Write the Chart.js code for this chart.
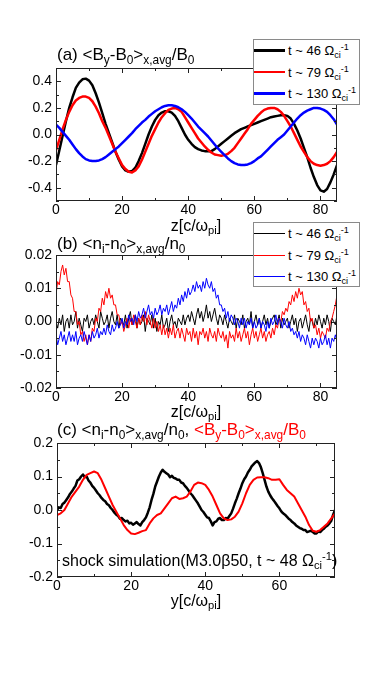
<!DOCTYPE html>
<html><head><meta charset="utf-8">
<script src="https://cdn.jsdelivr.net/npm/chart.js@4.4.0/dist/chart.umd.min.js"></script>
<style>
html,body{margin:0;padding:0;background:#fff;}
body{width:374px;height:680px;position:relative;overflow:hidden;font-family:"Liberation Sans",Arial,Helvetica,sans-serif;color:#000;}
canvas{position:absolute;left:0;top:0;}
.t{position:absolute;white-space:nowrap;line-height:1;z-index:4;}
.sb{font-size:0.7em;vertical-align:-0.3em;line-height:0;}
.sp{font-size:0.7em;vertical-align:0.5em;line-height:0;}
.xl{position:absolute;width:200px;text-align:center;font-size:16px;line-height:1;white-space:nowrap;z-index:4;}
.leg{position:absolute;left:253px;width:105px;border:1px solid #8a8a8a;background:#fff;z-index:5;}
.row{height:21.4px;display:flex;align-items:center;font-size:13px;line-height:1;white-space:nowrap;}
.sw{width:31px;margin-right:3px;flex:none;}
</style></head>
<body>
<canvas id="ca" width="374" height="680"></canvas>
<canvas id="cb" width="374" height="680"></canvas>
<canvas id="cc" width="374" height="680"></canvas>

<div class="t" style="left:57px;top:46px;font-size:17px;">(a) &lt;B<span class="sb">y</span>-B<span class="sb">0</span>&gt;<span class="sb">x,avg</span>/B<span class="sb">0</span></div>
<div class="xl" style="left:96px;top:218px;">z[c/ω<span class="sb">pi</span>]</div>
<div class="leg" style="top:39px;height:64px;">
  <div class="row"><div class="sw" style="height:2.5px;background:#000"></div><span>t ~ 46 Ω<span class="sb">ci</span><span class="sp">-1</span></span></div>
  <div class="row"><div class="sw" style="height:2.5px;background:#f00"></div><span>t ~ 79 Ω<span class="sb">ci</span><span class="sp">-1</span></span></div>
  <div class="row"><div class="sw" style="height:2.5px;background:#00f"></div><span>t ~ 130 Ω<span class="sb">ci</span><span class="sp">-1</span></span></div>
</div>

<div class="t" style="left:57px;top:235px;font-size:17px;">(b) &lt;n<span class="sb">i</span>-n<span class="sb">0</span>&gt;<span class="sb">x,avg</span>/n<span class="sb">0</span></div>
<div class="xl" style="left:96px;top:404px;">z[c/ω<span class="sb">pi</span>]</div>
<div class="leg" style="top:222px;height:63px;">
  <div class="row"><div class="sw" style="height:1px;background:#000"></div><span>t ~ 46 Ω<span class="sb">ci</span><span class="sp">-1</span></span></div>
  <div class="row"><div class="sw" style="height:1px;background:#f00"></div><span>t ~ 79 Ω<span class="sb">ci</span><span class="sp">-1</span></span></div>
  <div class="row"><div class="sw" style="height:1px;background:#00f"></div><span>t ~ 130 Ω<span class="sb">ci</span><span class="sp">-1</span></span></div>
</div>

<div class="t" style="left:57px;top:421px;font-size:17px;">(c) &lt;n<span class="sb">i</span>-n<span class="sb">0</span>&gt;<span class="sb">x,avg</span>/n<span class="sb">0</span>, <span style="color:#f00">&lt;B<span class="sb">y</span>-B<span class="sb">0</span>&gt;<span class="sb">x,avg</span>/B<span class="sb">0</span></span></div>
<div class="t" style="left:62px;top:553px;font-size:16px;">shock simulation(M3.0β50, t ~ 48 Ω<span class="sb">ci</span><span class="sp">-1</span>)</div>
<div class="xl" style="left:96px;top:593px;">y[c/ω<span class="sb">pi</span>]</div>

<script>
// ---------- tick labels ----------
const xTicksAB = [0, 20, 40, 60, 80];
const xTicksC = [0, 20, 40, 60];
const yTicksA = [-0.4, -0.2, 0, 0.2, 0.4];
const yTicksB = [-0.02, -0.01, 0, 0.01, 0.02];
const yTicksC = [-0.2, -0.1, 0, 0.1, 0.2];

// ---------- Panel (a): <By-B0>x,avg/B0, z = 0..85 step 1 ----------
const zA = Array.from({length: 86}, (_, i) => i);
const blackA = [
-0.23,-0.12,-0.01,0.10,0.20,0.28,0.35,0.39,0.415,0.42,
0.405,0.37,0.31,0.24,0.16,0.08,0.01,-0.06,-0.13,-0.19,
-0.24,-0.27,-0.28,-0.275,-0.25,-0.20,-0.14,-0.07,0.00,0.06,
0.11,0.145,0.165,0.175,0.175,0.165,0.14,0.10,0.05,0.00,
-0.04,-0.07,-0.095,-0.11,-0.12,-0.125,-0.125,-0.125,-0.11,-0.09,
-0.07,-0.05,-0.03,-0.01,0.01,0.025,0.04,0.05,0.06,0.07,
0.08,0.09,0.10,0.11,0.12,0.13,0.135,0.14,0.145,0.145,
0.14,0.12,0.08,0.03,-0.03,-0.10,-0.17,-0.25,-0.32,-0.38,
-0.42,-0.43,-0.41,-0.36,-0.30,-0.23];
const redA = [
-0.12,-0.04,0.04,0.11,0.17,0.22,0.255,0.275,0.285,0.285,
0.275,0.25,0.21,0.16,0.10,0.05,-0.01,-0.07,-0.13,-0.18,
-0.23,-0.26,-0.28,-0.285,-0.27,-0.24,-0.19,-0.13,-0.07,-0.01,
0.04,0.09,0.13,0.16,0.185,0.195,0.2,0.19,0.17,0.13,
0.09,0.05,0.01,-0.03,-0.06,-0.09,-0.115,-0.135,-0.15,-0.155,
-0.16,-0.155,-0.145,-0.125,-0.10,-0.065,-0.03,0.005,0.04,0.08,
0.11,0.14,0.165,0.185,0.195,0.2,0.2,0.19,0.17,0.14,
0.10,0.06,0.01,-0.04,-0.09,-0.13,-0.17,-0.20,-0.22,-0.23,
-0.235,-0.23,-0.22,-0.20,-0.17,-0.13];
const blueA = [
0.075,0.05,0.02,-0.01,-0.04,-0.075,-0.11,-0.14,-0.165,-0.185,
-0.195,-0.2,-0.2,-0.195,-0.185,-0.17,-0.15,-0.13,-0.11,-0.09,
-0.065,-0.04,-0.015,0.01,0.04,0.065,0.09,0.11,0.135,0.155,
0.175,0.19,0.205,0.215,0.22,0.22,0.215,0.205,0.19,0.17,
0.145,0.12,0.09,0.06,0.035,0.01,-0.015,-0.045,-0.075,-0.105,
-0.13,-0.155,-0.18,-0.2,-0.215,-0.225,-0.23,-0.23,-0.225,-0.215,
-0.2,-0.18,-0.165,-0.14,-0.115,-0.09,-0.065,-0.04,-0.02,0.0,
0.03,0.06,0.09,0.12,0.145,0.165,0.18,0.19,0.2,0.2,
0.195,0.185,0.17,0.145,0.115,0.075];

// ---------- Panel (b): <ni-n0>x,avg/n0, z = 0..85 step 0.5 ----------
const zB = Array.from({length: 171}, (_, i) => i * 0.5);
const blackB = [
0.000,-0.002,0.001,-0.001,0.002,-0.003,0.000,0.001,-0.002,0.002,
-0.001,0.000,0.003,-0.002,0.001,-0.001,-0.003,0.001,0.000,0.002,
-0.002,0.000,0.001,-0.001,0.002,0.000,-0.002,0.003,0.001,-0.001,
0.000,0.002,-0.002,0.001,0.003,0.000,-0.001,0.002,-0.002,0.001,
0.000,-0.001,0.002,-0.002,0.001,0.003,-0.001,0.000,0.002,-0.002,
0.001,-0.001,0.000,0.002,-0.003,0.001,0.000,-0.001,0.002,-0.002,
0.001,-0.003,0.000,-0.001,0.002,-0.002,-0.001,0.001,-0.003,0.000,
0.002,-0.001,0.000,-0.002,0.001,0.000,-0.001,0.002,-0.001,0.001,
0.002,0.000,0.003,0.001,-0.001,0.002,0.004,0.001,0.003,0.000,
0.002,0.005,0.001,0.003,0.000,0.002,0.004,0.001,-0.001,0.002,
0.001,-0.001,0.002,0.000,-0.002,0.001,0.000,-0.001,0.002,-0.002,
0.001,0.000,-0.001,0.002,-0.002,0.000,0.001,-0.001,0.003,-0.002,
0.000,0.002,-0.001,0.001,-0.002,0.000,0.002,-0.001,0.001,-0.002,
0.000,0.001,0.002,-0.001,0.000,0.002,-0.002,0.001,-0.001,0.000,
0.001,-0.002,0.000,0.002,-0.001,0.001,-0.003,0.000,0.001,-0.002,
0.000,0.002,-0.001,-0.003,0.001,0.000,-0.002,0.001,-0.001,0.002,
0.000,-0.002,0.001,-0.001,0.002,0.000,-0.003,0.001,0.000,-0.001,
0.002];
const redB = [
0.008,0.012,0.011,0.015,0.017,0.014,0.016,0.012,0.012,0.008,
0.007,0.003,0.003,-0.001,0.000,-0.004,-0.003,-0.006,-0.004,-0.007,
-0.004,-0.006,-0.002,-0.003,0.001,0.000,0.004,0.003,0.007,0.005,
0.009,0.007,0.010,0.007,0.008,0.005,0.005,0.002,0.002,-0.001,
0.000,-0.003,-0.001,0.001,-0.002,0.001,-0.001,0.002,0.000,-0.002,
0.001,-0.001,0.002,0.000,0.003,-0.001,0.002,0.000,-0.002,0.001,
-0.002,0.000,-0.003,-0.001,-0.004,-0.001,-0.004,-0.002,-0.005,-0.002,
-0.004,-0.001,-0.005,-0.003,-0.002,-0.005,-0.002,-0.004,-0.006,-0.002,
-0.004,-0.003,-0.006,-0.002,-0.005,-0.003,-0.007,-0.003,-0.004,-0.002,
-0.005,-0.003,-0.006,-0.002,-0.004,-0.005,-0.003,-0.006,-0.002,-0.004,
-0.005,-0.003,-0.006,-0.004,-0.008,-0.003,-0.005,-0.004,-0.006,-0.002,
-0.005,-0.003,-0.006,-0.004,-0.002,-0.005,-0.003,-0.007,-0.004,-0.002,
-0.005,-0.003,-0.006,-0.004,-0.002,-0.005,-0.003,-0.006,-0.004,-0.003,
-0.005,-0.002,-0.004,-0.001,-0.002,0.001,0.000,0.003,0.002,0.004,
0.003,0.006,0.005,0.008,0.006,0.009,0.007,0.010,0.008,0.009,
0.005,0.006,0.003,0.004,0.000,0.001,-0.002,-0.001,-0.004,-0.002,
-0.005,-0.003,-0.004,-0.005,-0.002,-0.003,0.000,0.001,0.003,0.005,
0.008];
const blueB = [
-0.004,-0.007,-0.005,-0.003,-0.006,-0.004,-0.007,-0.005,-0.003,-0.006,
-0.004,-0.006,-0.003,-0.007,-0.005,-0.004,-0.006,-0.003,-0.005,-0.007,
-0.004,-0.006,-0.003,-0.005,-0.004,-0.002,-0.005,-0.003,-0.004,-0.002,
-0.004,-0.001,-0.003,-0.004,-0.001,-0.003,-0.002,0.000,-0.002,-0.001,
0.001,-0.002,0.000,-0.001,0.002,0.000,0.001,-0.001,0.002,0.000,
0.003,0.001,0.002,0.004,0.001,0.003,0.005,0.002,0.003,0.001,
0.004,0.002,0.003,0.005,0.002,0.004,0.003,0.005,0.002,0.004,
0.006,0.003,0.005,0.004,0.007,0.005,0.008,0.006,0.009,0.007,
0.010,0.008,0.009,0.011,0.009,0.012,0.010,0.011,0.009,0.012,
0.010,0.013,0.011,0.010,0.012,0.009,0.010,0.007,0.008,0.005,
0.005,0.003,0.004,0.001,0.003,0.000,0.002,0.001,-0.001,0.001,
0.000,-0.002,0.001,-0.001,0.001,-0.002,0.000,-0.001,0.001,-0.002,
0.000,-0.002,-0.001,0.001,-0.002,0.000,-0.001,-0.003,0.000,-0.002,
0.001,-0.001,0.000,0.002,-0.001,0.001,0.000,-0.002,0.001,-0.001,
-0.002,0.000,-0.003,-0.002,-0.004,-0.003,-0.005,-0.003,-0.006,-0.004,
-0.005,-0.007,-0.004,-0.006,-0.008,-0.005,-0.007,-0.005,-0.006,-0.008,
-0.005,-0.007,-0.006,-0.004,-0.007,-0.005,-0.008,-0.005,-0.006,-0.004,
-0.006];

// ---------- Panel (c): shock simulation, y = 0..75 ----------
const yCb = Array.from({length: 151}, (_, i) => i * 0.5);
const densC = [
0.000,0.008,0.006,0.018,0.022,0.030,0.038,0.048,0.055,0.064,
0.072,0.088,0.092,0.100,0.106,0.098,0.100,0.088,0.082,0.072,
0.066,0.058,0.050,0.044,0.036,0.030,0.026,0.018,0.014,0.006,
0.000,-0.008,-0.014,-0.018,-0.026,-0.024,-0.030,-0.034,-0.032,-0.040,
-0.038,-0.044,-0.040,-0.036,-0.042,-0.046,-0.036,-0.030,-0.022,-0.008,
0.008,0.030,0.048,0.070,0.085,0.100,0.112,0.120,0.114,0.110,
0.106,0.098,0.102,0.096,0.094,0.090,0.090,0.082,0.080,0.072,
0.066,0.058,0.050,0.044,0.036,0.028,0.020,0.010,0.000,-0.006,
-0.014,-0.022,-0.024,-0.034,-0.046,-0.036,-0.034,-0.026,-0.024,-0.030,
-0.030,-0.024,-0.026,-0.018,-0.010,0.004,0.020,0.034,0.050,0.064,
0.080,0.092,0.100,0.112,0.120,0.130,0.136,0.142,0.146,0.140,
0.128,0.110,0.090,0.070,0.055,0.044,0.035,0.028,0.020,0.012,
0.005,-0.004,-0.010,-0.014,-0.020,-0.026,-0.030,-0.036,-0.040,-0.046,
-0.050,-0.054,-0.056,-0.060,-0.060,-0.066,-0.064,-0.062,-0.066,-0.070,
-0.070,-0.064,-0.066,-0.060,-0.056,-0.050,-0.046,-0.040,-0.032,-0.014,
0.000];
const yCr = Array.from({length: 76}, (_, i) => i);
const byC = [
-0.015,-0.01,0.0,0.02,0.04,0.055,0.07,0.09,0.105,0.11,
0.115,0.11,0.09,0.065,0.04,0.015,-0.005,-0.025,-0.045,-0.06,
-0.07,-0.072,-0.068,-0.063,-0.06,-0.04,-0.025,-0.015,-0.01,0.005,
0.02,0.035,0.04,0.033,0.035,0.04,0.055,0.075,0.082,0.08,
0.075,0.06,0.04,0.015,-0.01,-0.025,-0.03,-0.028,-0.02,-0.005,
0.02,0.05,0.075,0.09,0.097,0.098,0.098,0.095,0.09,0.09,
0.092,0.075,0.06,0.05,0.04,0.02,0.0,-0.02,-0.045,-0.062,
-0.065,-0.06,-0.05,-0.04,-0.025,-0.01];

const FONT = '"Liberation Sans", Arial, Helvetica, sans-serif';
const pts = (xs, ys) => ys.map((v, i) => ({x: xs[i], y: v}));

const frameTicks = {
  id: 'frameTicks',
  afterDraw(chart, args, o) {
    const {ctx, chartArea: a, scales: {x, y}} = chart;
    ctx.save();
    ctx.strokeStyle = '#222';
    ctx.lineWidth = 1;
    ctx.strokeRect(Math.round(a.left) + 0.5, Math.round(a.top) + 0.5,
                   Math.round(a.right - a.left) - 1, Math.round(a.bottom - a.top) - 1);
    ctx.beginPath();
    const isMaj = (v, m) => Math.abs(v / m - Math.round(v / m)) < 1e-6;
    for (let k = Math.ceil(x.min / o.xMinor - 1e-9); k * o.xMinor <= x.max + 1e-9; k++) {
      const v = k * o.xMinor;
      const L = isMaj(v, o.xMajor) ? 5 : 3;
      const px = Math.round(x.getPixelForValue(v)) + 0.5;
      ctx.moveTo(px, a.bottom); ctx.lineTo(px, a.bottom - L);
      ctx.moveTo(px, a.top); ctx.lineTo(px, a.top + L);
    }
    for (let k = Math.ceil(y.min / o.yMinor - 1e-9); k * o.yMinor <= y.max + 1e-9; k++) {
      const v = k * o.yMinor;
      const L = isMaj(v, o.yMajor) ? 5 : 3;
      const py = Math.round(y.getPixelForValue(v)) + 0.5;
      ctx.moveTo(a.left, py); ctx.lineTo(a.left + L, py);
      ctx.moveTo(a.right, py); ctx.lineTo(a.right - L, py);
    }
    ctx.stroke();
    ctx.restore();
  }
};

function panel(id, datasets, xr, xt, yr, yt, dec, pad, tk) {
  return new Chart(document.getElementById(id), {
    type: 'line',
    data: {datasets},
    options: {
      responsive: false, animation: false, devicePixelRatio: 1,
      layout: {padding: pad},
      plugins: {legend: {display: false}, title: {display: false}, tooltip: {enabled: false}, frameTicks: tk},
      elements: {point: {radius: 0}, line: {tension: 0, borderJoinStyle: 'round'}},
      scales: {
        x: {type: 'linear', min: xr[0], max: xr[1],
            grid: {display: false, drawTicks: false}, border: {display: false},
            ticks: {autoSkip: false, maxRotation: 0, padding: 1,
                    color: '#000', font: {family: FONT, size: 14}},
            afterBuildTicks(s) { s.ticks = xt.map(v => ({value: v})); },
            afterFit(s) { s.height = 20; }},
        y: {type: 'linear', min: yr[0], max: yr[1],
            grid: {display: false, drawTicks: false}, border: {display: false},
            ticks: {autoSkip: false, padding: 4,
                    color: '#000', font: {family: FONT, size: 14},
                    callback: (v) => (Math.abs(v) < 1e-9 ? 0 : v).toFixed(dec)},
            afterBuildTicks(s) { s.ticks = yt.map(v => ({value: v})); },
            afterFit(s) { s.width = 56; }}
      }
    },
    plugins: [frameTicks]
  });
}

panel('ca', [
  {data: pts(zA, blueA), borderColor: '#0000ff', borderWidth: 2.5, order: 0},
  {data: pts(zA, redA), borderColor: '#ff0000', borderWidth: 2.5, order: 1},
  {data: pts(zA, blackA), borderColor: '#000000', borderWidth: 2.5, order: 2}
], [0, 85], xTicksAB, [-0.5, 0.5], yTicksA, 1, {left: 0, right: 37, top: 68, bottom: 459},
   {xMajor: 20, xMinor: 10, yMajor: 0.2, yMinor: 0.1});

panel('cb', [
  {data: pts(zB, blueB), borderColor: '#0000ff', borderWidth: 1, order: 0},
  {data: pts(zB, redB), borderColor: '#ff0000', borderWidth: 1, order: 1},
  {data: pts(zB, blackB), borderColor: '#000000', borderWidth: 1, order: 2}
], [0, 85], xTicksAB, [-0.02, 0.02], yTicksB, 2, {left: 0, right: 37, top: 255, bottom: 272},
   {xMajor: 20, xMinor: 10, yMajor: 0.01, yMinor: 0.005});

panel('cc', [
  {data: pts(yCr, byC), borderColor: '#ff0000', borderWidth: 2, order: 0},
  {data: pts(yCb, densC), borderColor: '#000000', borderWidth: 2.5, order: 1}
], [0, 75], xTicksC, [-0.2, 0.2], yTicksC, 1, {left: 1, right: 39, top: 443, bottom: 83},
   {xMajor: 20, xMinor: 10, yMajor: 0.1, yMinor: 0.05});
</script>
</body></html>
